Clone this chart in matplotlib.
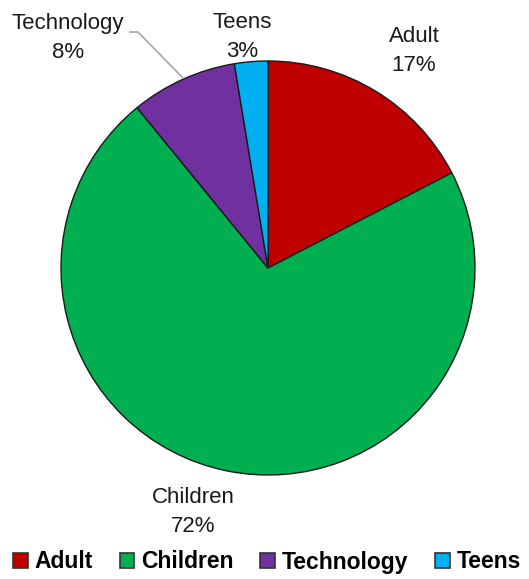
import matplotlib.pyplot as plt

# --- DATA ---
categories = ['Adult', 'Children', 'Technology', 'Teens']
shares = [17.4, 71.7, 8.3, 2.6]
colors = ['#C00000', '#00B050', '#7030A0', '#00B0F0']

# label spots (data coords, pie radius = 1)
label_pos = {
    'Adult': (0.705, 1.05),
    'Children': (-0.362, -1.18),
    'Technology': (-0.966, 1.11),
    'Teens': (-0.126, 1.115),
}

FONT = ['Liberation Sans Narrow', 'Liberation Sans', 'DejaVu Sans']
plt.rcParams['font.family'] = FONT

W, H = 529, 579
CX, CY, R = 268, 268, 207
fig = plt.figure(figsize=(W / 100, H / 100), dpi=100)
ax = fig.add_axes([(CX - R) / W, (H - CY - R) / H, 2 * R / W, 2 * R / H])

wedges, _ = ax.pie(shares, colors=colors, startangle=90, counterclock=False,
                   radius=1, wedgeprops=dict(edgecolor='#1a1a1a', linewidth=1.0))
ax.set_xlim(-1, 1)
ax.set_ylim(-1, 1)
ax.set_aspect('equal')
ax.axis('off')

total = sum(shares)
for name, val in zip(categories, shares):
    x, y = label_pos[name]
    ax.text(x, y, f"{name}\n{val / total * 100:.0f}%", ha='center', va='center',
            fontsize=16, color='#1a1a1a', linespacing=1.5, clip_on=False)

# leader line for Technology
ax.plot([-0.667, -0.628, -0.411], [1.14, 1.14, 0.918], color='#a6a6a6', lw=1.2,
        clip_on=False)

handles = [plt.Rectangle((0, 0), 1, 1, fc=c, ec='#333333', lw=1.2) for c in colors]
fig.legend(handles, categories, loc='center', bbox_to_anchor=(267 / W, 1 - 562 / H),
           ncol=4, frameon=False, prop=dict(family=FONT, weight='bold', size=16.5),
           handlelength=0.65, handleheight=0.65, handletextpad=0.3,
           columnspacing=1.15, borderaxespad=0, borderpad=0)

fig.savefig('out.png', dpi=100)
